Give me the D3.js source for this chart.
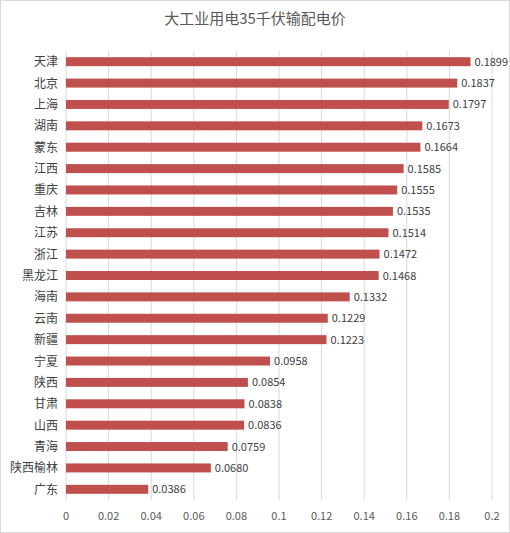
<!DOCTYPE html><html><head><meta charset="utf-8"><script src="https://d3js.org/d3.v7.min.js"></script>
<style>body{margin:0;background:#fff}text{font-family:"Noto Sans CJK SC","Microsoft YaHei",sans-serif}</style></head><body>
<script>
const categories=["天津","北京","上海","湖南","蒙东","江西","重庆","吉林","江苏","浙江","黑龙江","海南","云南","新疆","宁夏","陕西","甘肃","山西","青海","陕西榆林","广东"];
const values=[0.1899,0.1837,0.1797,0.1673,0.1664,0.1585,0.1555,0.1535,0.1514,0.1472,0.1468,0.1332,0.1229,0.1223,0.0958,0.0854,0.0838,0.0836,0.0759,0.0680,0.0386];
const ticks=[0,0.02,0.04,0.06,0.08,0.1,0.12,0.14,0.16,0.18,0.2];
const W=510,H=533;
const svg=d3.select("body").append("svg").attr("width",W).attr("height",H);
svg.append("rect").attr("x",0.5).attr("y",0.5).attr("width",W-1).attr("height",H-1).attr("fill","#fff").attr("stroke","#d9d9d9");
svg.append("text").attr("x",255).attr("y",24).attr("text-anchor","middle").attr("font-size",15).attr("fill","#595959").text("大工业用电35千伏输配电价");
const x=d3.scaleLinear().domain([0,0.2]).range([66,492]);
const y=d3.scaleBand().domain(categories).range([51,500]).paddingInner(0.58).paddingOuter(0.29);
svg.append("g").selectAll("line").data(ticks).join("line").attr("x1",d=>x(d)).attr("x2",d=>x(d)).attr("y1",51).attr("y2",500).attr("stroke","#d9d9d9");
svg.selectAll(".b").data(values).join("rect").attr("x",x(0)).attr("y",(d,i)=>y(categories[i])).attr("width",d=>x(d)-x(0)).attr("height",y.bandwidth()).attr("fill","#C0504D");
svg.selectAll(".v").data(values).join("text").attr("x",d=>x(d)+4).attr("y",(d,i)=>y(categories[i])+y.bandwidth()/2+4).attr("font-size",11).attr("fill","#404040").text(d=>d.toFixed(4));
svg.selectAll(".c").data(categories).join("text").attr("x",58).attr("y",d=>y(d)+y.bandwidth()/2+4.5).attr("text-anchor","end").attr("font-size",12).attr("fill","#404040").text(d=>d);
svg.selectAll(".t").data(ticks).join("text").attr("x",d=>x(d)).attr("y",520).attr("text-anchor","middle").attr("font-size",11).attr("fill","#595959").text(d=>d);
</script></body></html>
